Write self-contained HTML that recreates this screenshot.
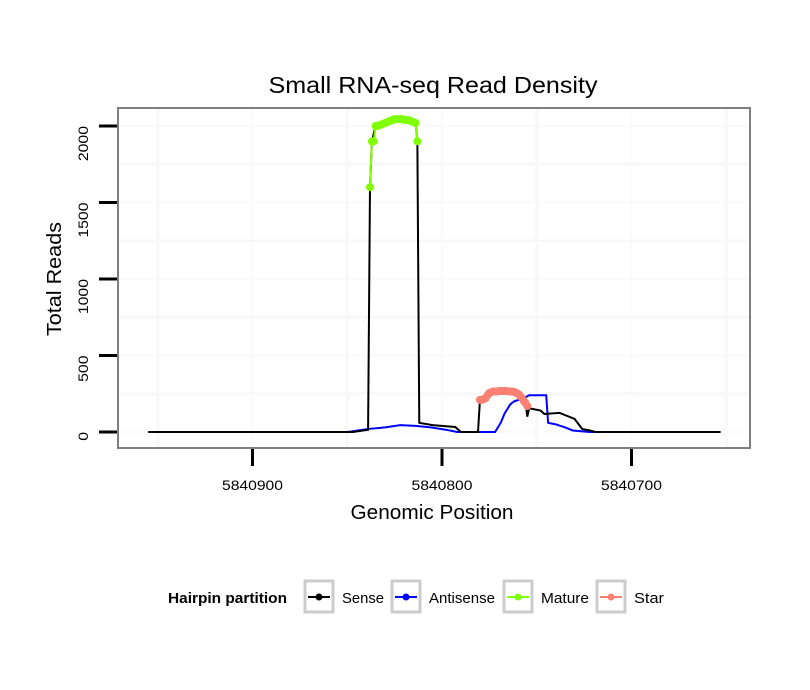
<!DOCTYPE html>
<html><head><meta charset="utf-8"><style>
body{margin:0;background:#fff;}
svg{display:block;font-family:"Liberation Sans",sans-serif;}
</style></head><body>
<svg id="chart" width="810" height="690">
<text x="433" y="93" text-anchor="middle" font-size="23" textLength="329" lengthAdjust="spacingAndGlyphs">Small RNA-seq Read Density</text>
<rect x="118" y="108" width="632" height="340" fill="#fff"/>
<g id="grid"></g>
<g id="series"></g>
<rect x="118" y="108" width="632" height="340" fill="none" stroke="#7f7f7f" stroke-width="2"/>
<g id="axes"></g>
<text x="432" y="519" text-anchor="middle" font-size="20" textLength="163" lengthAdjust="spacingAndGlyphs">Genomic Position</text>
<text transform="translate(61,279) rotate(-90)" text-anchor="middle" font-size="20" textLength="114" lengthAdjust="spacingAndGlyphs">Total Reads</text>
<g>
<text x="168" y="603" font-size="15" font-weight="bold" textLength="119" lengthAdjust="spacingAndGlyphs">Hairpin partition</text>
<g><rect x="305" y="581" width="28" height="31" fill="#fff" stroke="#ccc" stroke-width="3"/><line x1="308" y1="597" x2="330" y2="597" stroke="#000" stroke-width="2"/><circle cx="319" cy="597" r="3.5" fill="#000"/><text x="342" y="603" font-size="15" textLength="42" lengthAdjust="spacingAndGlyphs">Sense</text></g>
<g><rect x="392" y="581" width="28" height="31" fill="#fff" stroke="#ccc" stroke-width="3"/><line x1="395" y1="597" x2="417" y2="597" stroke="#00f" stroke-width="2"/><circle cx="406" cy="597" r="3.5" fill="#00f"/><text x="429" y="603" font-size="15" textLength="66" lengthAdjust="spacingAndGlyphs">Antisense</text></g>
<g><rect x="504" y="581" width="28" height="31" fill="#fff" stroke="#ccc" stroke-width="3"/><line x1="507" y1="597" x2="529" y2="597" stroke="#7fff00" stroke-width="2"/><circle cx="518" cy="597" r="3.5" fill="#7fff00"/><text x="541" y="603" font-size="15" textLength="48" lengthAdjust="spacingAndGlyphs">Mature</text></g>
<g><rect x="597" y="581" width="28" height="31" fill="#fff" stroke="#ccc" stroke-width="3"/><line x1="600" y1="597" x2="622" y2="597" stroke="#fa8072" stroke-width="2"/><circle cx="611" cy="597" r="3.5" fill="#fa8072"/><text x="634" y="603" font-size="15" textLength="30" lengthAdjust="spacingAndGlyphs">Star</text></g>
</g>
</svg>
<script>
const xTicks = [5840900, 5840800, 5840700];
const yTicks = [0, 500, 1000, 1500, 2000];
const senseX = [5840955,5840847,5840839,5840838,5840837,5840835,5840830,5840822,5840814,5840813,5840812,5840805,5840793,5840790,5840781,5840780,5840775,5840769,5840764,5840759,5840756,5840755,5840754,5840748,5840746,5840738,5840730,5840726,5840722,5840719,5840653];
const senseY = [0,0,15,1600,1900,2000,2030,2045,2030,1900,60,45,33,0,0,205,255,265,265,255,210,100,155,140,118,125,85,20,10,0,0];
const antiX = [5840955,5840850,5840847,5840839,5840830,5840822,5840814,5840806,5840798,5840792,5840772,5840769,5840767,5840764,5840762,5840757,5840754,5840745,5840744,5840740,5840735,5840731,5840722,5840653];
const antiY = [0,0,5,20,30,45,40,30,15,0,0,60,120,180,200,220,240,240,60,50,30,10,0,0];
const matureX = [5840838,5840837,5840836,5840835,5840834,5840833,5840832,5840831,5840830,5840829,5840828,5840827,5840826,5840825,5840824,5840823,5840822,5840821,5840820,5840819,5840818,5840817,5840816,5840815,5840814,5840813];
const matureY = [1600,1900,1900,2000,2000,2005,2010,2015,2020,2025,2030,2035,2040,2045,2045,2045,2045,2045,2040,2040,2040,2035,2030,2025,2020,1900];
const starX = [5840780,5840779,5840778,5840777,5840776,5840775,5840774,5840773,5840772,5840771,5840770,5840769,5840768,5840767,5840766,5840765,5840764,5840763,5840762,5840761,5840760,5840759,5840758,5840757,5840756,5840755];
const starY = [210,210,215,220,240,255,260,265,265,265,268,268,268,268,268,265,265,265,262,258,250,240,225,205,190,170];

const NS='http://www.w3.org/2000/svg';
const X = p => 442 + (5840800 - p) * 1.895;
const Y = v => 432 - v * 0.153;
function mk(tag, attrs, parent){const e=document.createElementNS(NS,tag);for(const k in attrs)e.setAttribute(k,attrs[k]);parent.appendChild(e);return e;}
const grid=document.getElementById('grid'), axes=document.getElementById('axes'), series=document.getElementById('series');
for(let i=0;i<yTicks.length;i++){
  const g=mk('line',{x1:119,x2:749,y1:Y(yTicks[i]),y2:Y(yTicks[i]),stroke:'#fafafa','stroke-width':2},grid);
  
  
  if(i<yTicks.length-1){const m=(yTicks[i]+yTicks[i+1])/2;const gm=mk('line',{x1:119,x2:749,y1:Y(m),y2:Y(m),stroke:'#f8f8f8','stroke-width':3},grid);
  
  }
}
for(let i=0;i<xTicks.length;i++){
  const g=mk('line',{x1:X(xTicks[i]),x2:X(xTicks[i]),y1:109,y2:447,stroke:'#fafafa','stroke-width':2},grid);
  
  
}
[xTicks[0]+50, xTicks[0]-50, xTicks[1]-50, xTicks[2]-50].forEach(p=>{
  const g=mk('line',{x1:X(p),x2:X(p),y1:109,y2:447,stroke:'#f8f8f8','stroke-width':3},grid);
  
  
});
yTicks.forEach(v=>{
  const t=mk('line',{x1:99,x2:117,y1:Y(v),y2:Y(v),stroke:'#000','stroke-width':3},axes);
  
  
  const s=String(v);
  const l=mk('text',{transform:`translate(88,${Y(v)}) rotate(-90)`,'text-anchor':'end','font-size':14,textLength:s.length*8.8,lengthAdjust:'spacingAndGlyphs'},axes);
  l.textContent=s;
  
  
});
xTicks.forEach(p=>{
  const t=mk('line',{x1:X(p),x2:X(p),y1:449,y2:466,stroke:'#000','stroke-width':3},axes);
  
  
  const l=mk('text',{x:X(p),y:490,'text-anchor':'middle','font-size':14,textLength:61,lengthAdjust:'spacingAndGlyphs'},axes);
  l.textContent=p;
  
  
});
function line(xs,ys,color,name){
  const pl=mk('polyline',{points:xs.map((p,i)=>X(p)+','+Y(ys[i])).join(' '),fill:'none',stroke:color,'stroke-width':2},series);
  
  
}
function dots(xs,ys,color,name){
  xs.forEach((p,i)=>{const c=mk('circle',{cx:X(p),cy:Y(ys[i]),r:4,fill:color},series);
  
  });
}
line(antiX,antiY,'#0000ff','antisense-line');
line(senseX,senseY,'#000000','sense-line');
line(matureX,matureY,'#7fff00','mature-line');
dots(matureX,matureY,'#7fff00','mature-point');
line(starX,starY,'#fa8072','star-line');
dots(starX,starY,'#fa8072','star-point');
</script>
</body></html>
